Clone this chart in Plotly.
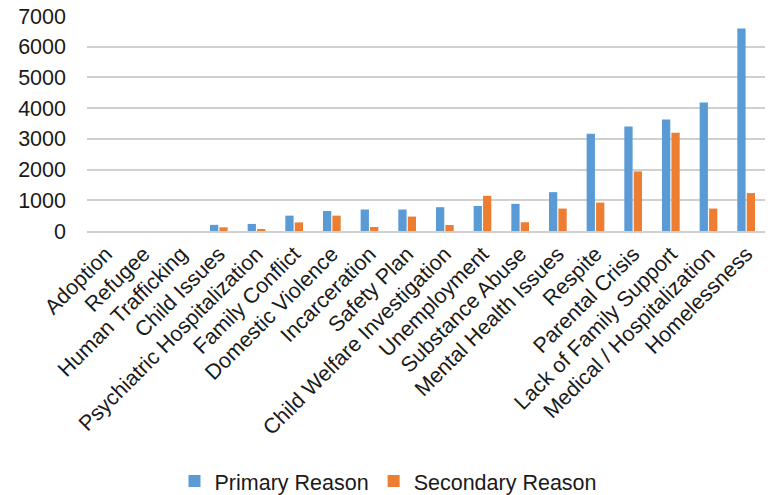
import plotly.graph_objects as go

categories = [
    "Adoption", "Refugee", "Human Trafficking", "Child Issues",
    "Psychiatric Hospitalization", "Family Conflict", "Domestic Violence",
    "Incarceration", "Safety Plan", "Child Welfare Investigation",
    "Unemployment", "Substance Abuse", "Mental Health Issues", "Respite",
    "Parental Crisis", "Lack of Family Support", "Medical / Hospitalization",
    "Homelessness",
]
primary = [0, 0, 0, 200, 230, 500, 650, 700, 700, 775, 815, 885, 1265,
           3170, 3400, 3630, 4185, 6590]
secondary = [0, 0, 0, 120, 60, 280, 500, 130, 470, 195, 1145, 285, 730,
             925, 1940, 3200, 730, 1235]
y_ticks = [0, 1000, 2000, 3000, 4000, 5000, 6000, 7000]

FONT = "Liberation Sans, Arial, sans-serif"
TEXT = "#1a1a1a"

fig = go.Figure()
fig.add_trace(go.Bar(
    x=categories, y=primary, name="Primary Reason",
    marker=dict(color="#5B9BD5", line=dict(width=0)),
))
fig.add_trace(go.Bar(
    x=categories, y=secondary, name="Secondary Reason",
    marker=dict(color="#ED7D31", line=dict(width=0)),
))

fig.update_layout(
    width=777, height=495,
    margin=dict(l=87, r=12, t=16, b=264),
    paper_bgcolor="white", plot_bgcolor="white",
    barmode="group", bargap=0.5, bargroupgap=0.12,
    font=dict(family=FONT, size=21.5, color=TEXT),
    showlegend=True,
    legend=dict(
        orientation="h", x=0.5, xanchor="center",
        xref="container", yref="container",
        y=0.028, yanchor="middle",
        font=dict(family=FONT, size=21.5, color=TEXT),
        itemwidth=30, traceorder="normal",
    ),
    xaxis=dict(
        tickangle=-45, tickfont=dict(family=FONT, size=21.5, color=TEXT),
        showgrid=False, showline=True, linecolor="#D0D0D0", linewidth=2,
        ticks="", automargin=False,
    ),
    yaxis=dict(
        range=[0, 7000], tickvals=y_ticks,
        tickfont=dict(family=FONT, size=21.5, color=TEXT),
        showgrid=True, gridcolor="#D0D0D0", gridwidth=1.5,
        zeroline=False, showline=False, ticks="",
        ticklabelstandoff=20, automargin=False,
    ),
)

fig.write_html("out.html")
